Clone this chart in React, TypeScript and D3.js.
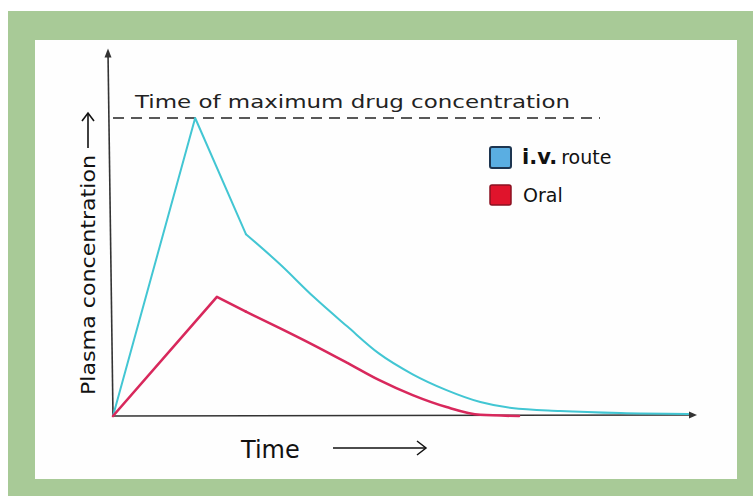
import * as React from "react";
import * as d3 from "d3";

// hand-drawn chart, values (time in arbitrary hours, conc in % of iv peak)
const IV_TIME = [0, 3.4, 5.5, 6.9, 8.3, 9.7, 11, 12.4, 13.8, 15.2, 16.5, 18.5, 21, 23.8];
const IV_CONC = [0, 100, 61, 51, 40, 30, 21, 14, 8.7, 4.7, 2.7, 1.7, 1.0, 0.7];
const ORAL_TIME = [0, 4.3, 5.5, 6.9, 8.3, 9.7, 11, 12.4, 13.8, 15.2, 16.8];
const ORAL_CONC = [0, 40, 35, 29.5, 23.8, 17.8, 12.1, 7.0, 3.0, 0.4, 0];

const SERIES_NAMES = ["i.v.", "Oral"];
const SERIES_COLORS = ["#42c6d3", "#d8285c"];
const TITLE = "Time of maximum drug concentration";
const X_LABEL = "Time";
const Y_LABEL = "Plasma concentration";

const W = 753;
const H = 496;
const hand = "'DejaVu Sans', 'Liberation Sans', sans-serif";

// the sketch is ruled straight up to the point just after the peak, then drawn freehand
function splitAfterPeak(t: number[], c: number[]) {
    const pts: [number, number][] = t.map((v, i) => [v, c[i]]);
    const k = c.indexOf(d3.max(c) as number) + 1;
    return { ruled: pts.slice(0, k + 1), free: pts.slice(k) };
}

export default function App() {
    const x = d3.scaleLinear().domain([0, 24]).range([113, 693]);
    const y = d3.scaleLinear().domain([0, 100]).range([416, 118]);

    const straight = d3.line<[number, number]>().x(d => x(d[0])).y(d => y(d[1]));
    const smooth = d3.line<[number, number]>().x(d => x(d[0])).y(d => y(d[1])).curve(d3.curveMonotoneX);

    const iv = splitAfterPeak(IV_TIME, IV_CONC);
    const oral = splitAfterPeak(ORAL_TIME, ORAL_CONC);

    const x0 = x(0), y0 = y(0);

    return (
        <div style={{ position: "absolute", left: 0, top: 0 }}>
            <svg width={W} height={H} style={{ display: "block" }}>
                <rect x={0} y={0} width={W} height={H} fill="#fff" />
                <rect x={8} y={11} width={W - 8} height={H - 11} fill="#a8ca97" />
                <rect x={35} y={40} width={702} height={439} fill="#fefefe" />

                {/* axes */}
                <g stroke="#333" strokeWidth={1.6} fill="none">
                    <line x1={x0} y1={y0} x2={x0 - 5} y2={y(122)} />
                    <line x1={x0} y1={y0} x2={x(24)} y2={y0 - 1} />
                </g>
                <path d={`M${x0 - 5},${y(122) - 4} l-3.5,9 l7,0 z`} fill="#333" />
                <path d={`M${x(24) + 4},${y0 - 1} l-8,-3.5 l0,7 z`} fill="#333" />

                {/* dashed tmax line */}
                <line x1={x0} y1={y(100)} x2={600} y2={y(100)} stroke="#222" strokeWidth={1.6} strokeDasharray="11,7" />
                <text x={135} y={108} fontFamily={hand} fontSize={18} fill="#222" textLength={435} lengthAdjust="spacingAndGlyphs">{TITLE}</text>

                {/* curves */}
                {[iv, oral].map((s, i) => (
                    <g key={i} fill="none" stroke={SERIES_COLORS[i]} strokeWidth={i === 0 ? 2 : 2.6} strokeLinejoin="round" strokeLinecap="round">
                        <path d={straight(s.ruled) || ""} />
                        <path d={smooth(s.free) || ""} />
                    </g>
                ))}

                {/* legend */}
                <rect x={490} y={147} width={21} height={21} fill="#5aaee2" stroke="#1d3550" strokeWidth={2} rx={2} />
                <text x={522} y={164} fontFamily={hand} fill="#111">
                    <tspan fontSize={21} fontWeight="bold">{SERIES_NAMES[0]}</tspan>
                    <tspan fontSize={19} dx={4}>route</tspan>
                </text>
                <rect x={490} y={185} width={21} height={20} fill="#e0142c" stroke="#8a1020" strokeWidth={1.5} rx={2} />
                <text x={523} y={202} fontFamily={hand} fontSize={19} fill="#111">{SERIES_NAMES[1]}</text>

                {/* y label */}
                <g transform="translate(95, 395) rotate(-90)">
                    <text x={0} y={0} fontFamily={hand} fontSize={20} fill="#111" textLength={240} lengthAdjust="spacingAndGlyphs">{Y_LABEL}</text>
                    <line x1={247} y1={-7} x2={281} y2={-7} stroke="#111" strokeWidth={1.6} />
                    <path d="M274,-13 L282,-7 L274,-1" fill="none" stroke="#111" strokeWidth={1.6} />
                </g>

                {/* x label */}
                <text x={241} y={458} fontFamily={hand} fontSize={24} fill="#111">{X_LABEL}</text>
                <line x1={333} y1={448} x2={425} y2={448} stroke="#111" strokeWidth={1.5} />
                <path d="M417,441 L426,448 L417,455" fill="none" stroke="#111" strokeWidth={1.5} />
            </svg>
        </div>
    );
}
